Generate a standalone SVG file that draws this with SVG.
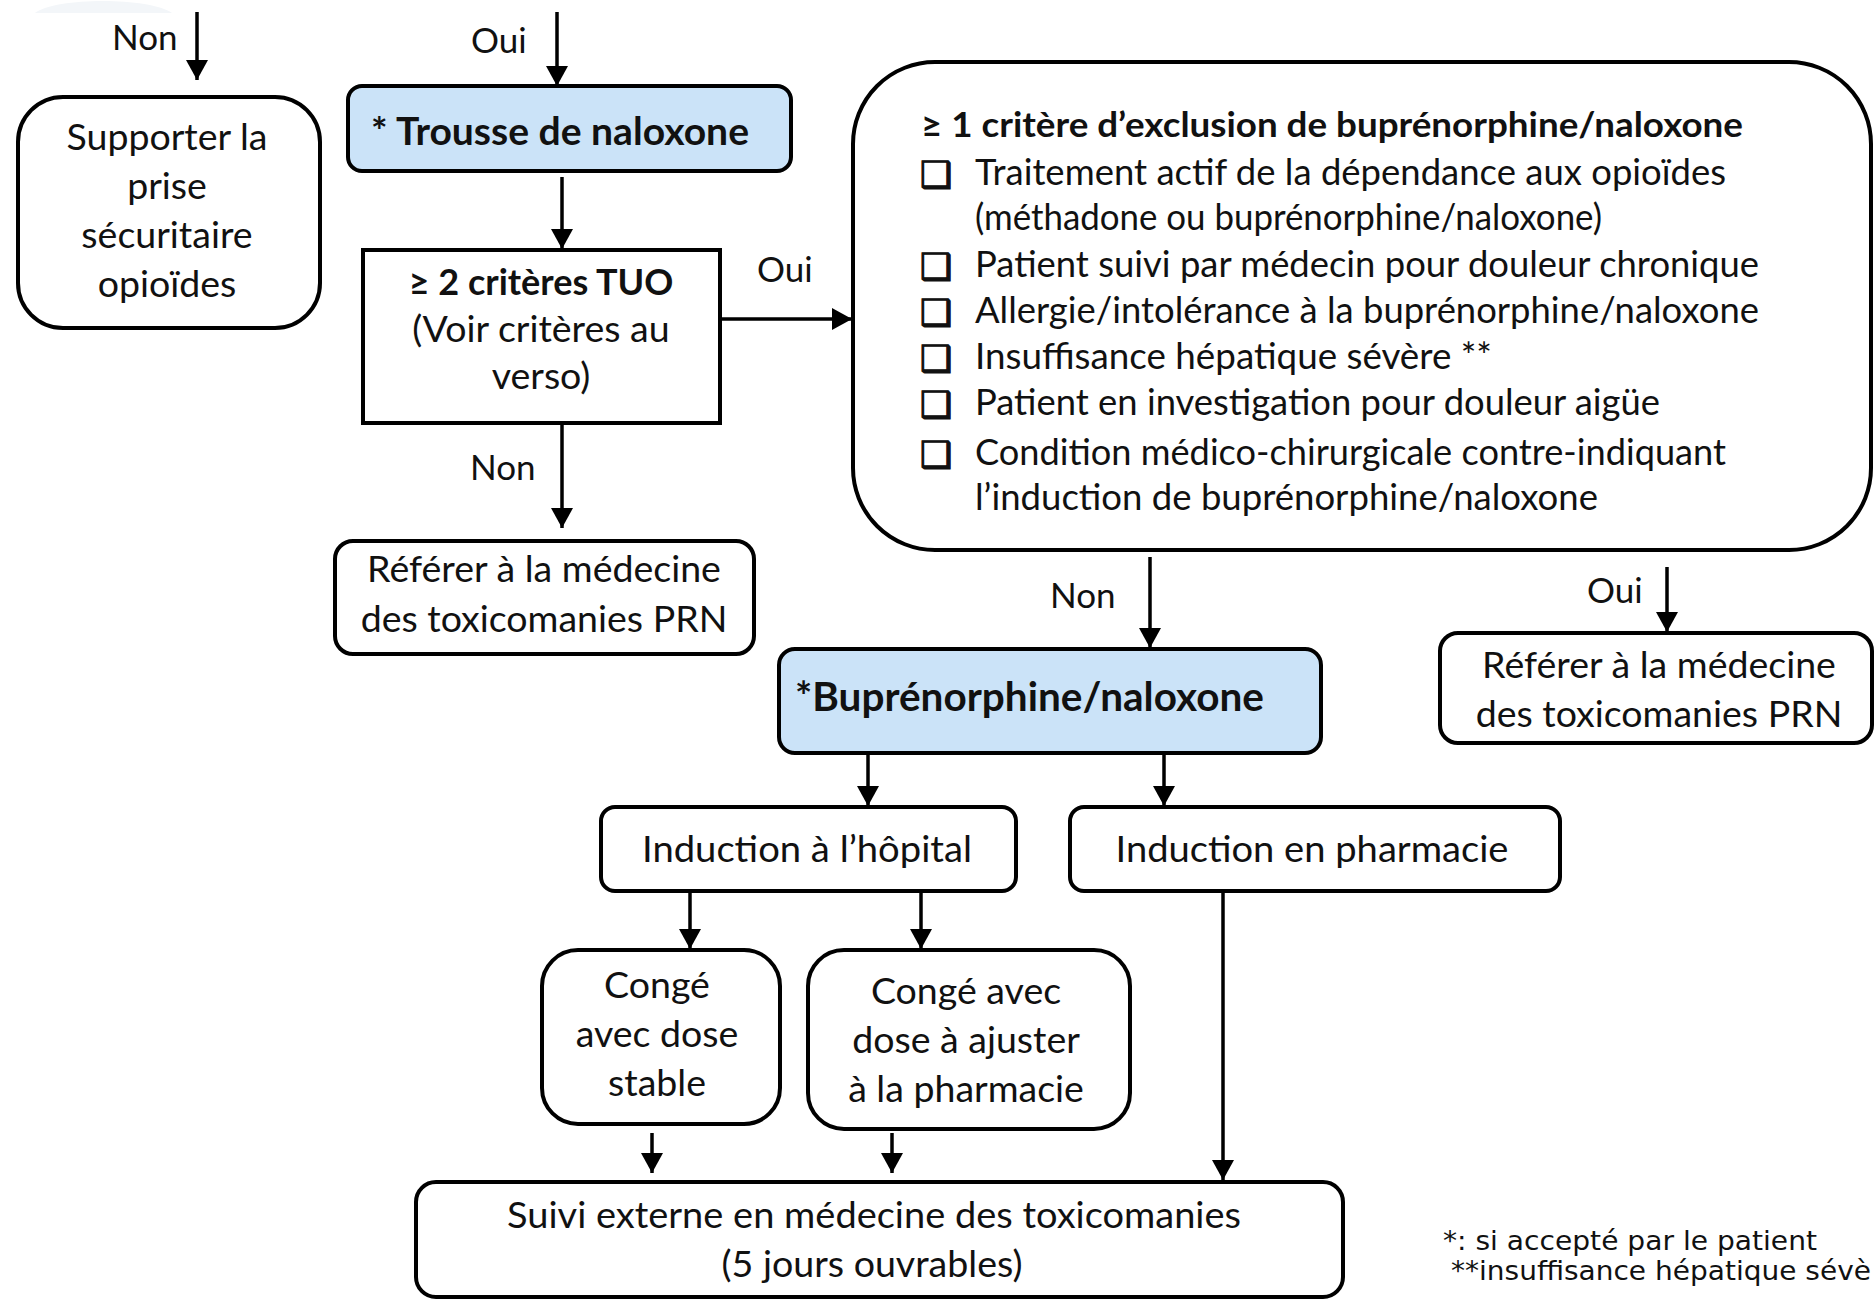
<svg xmlns="http://www.w3.org/2000/svg" width="1875" height="1300" viewBox="0 0 1875 1300">
<style>
.box{fill:#fff;stroke:#000;stroke-width:4}
.blue{fill:#cbe3f8;stroke:#000;stroke-width:4}
.t{font-family:Lato,"Open Sans",sans-serif;font-size:37.5px;fill:#111}
.c{text-anchor:middle}
.b{font-weight:bold}
.lbl{font-family:Lato,"Open Sans",sans-serif;font-size:35px;fill:#111}
.li{font-family:Lato,"Open Sans",sans-serif;font-size:36px;fill:#111}
.cb{font-family:"DejaVu Sans",sans-serif;font-size:36px;font-weight:bold;fill:#111;stroke:#111;stroke-width:1.2}
.fn{font-family:"DejaVu Sans",sans-serif;font-size:27px;fill:#111}
.ln{fill:none;stroke:#000;stroke-width:3.5}
.ar{fill:none;stroke:#000;stroke-width:3.5;marker-end:url(#ah)}
</style>
<defs>
<marker id="ah" viewBox="0 0 20 22" refX="20" refY="11" markerWidth="20" markerHeight="22" markerUnits="userSpaceOnUse" orient="auto">
<path d="M0,0 L20,11 L0,22 Z" fill="#000"/>
</marker>
</defs>
<rect width="1875" height="1300" fill="#fff"/>
<path d="M35,13 C55,-3 150,-3 172,13 Z" fill="#f3f6f9"/>

<g id="connectors">
<line class="ar" x1="197" y1="12" x2="197" y2="80"/>
<line class="ar" x1="557" y1="12" x2="557" y2="86"/>
<line class="ar" x1="562" y1="177" x2="562" y2="249"/>
<line class="ar" x1="720" y1="319" x2="852" y2="319"/>
<line class="ar" x1="562" y1="423" x2="562" y2="528"/>
<line class="ar" x1="1150" y1="557" x2="1150" y2="648"/>
<line class="ar" x1="1667" y1="567" x2="1667" y2="632"/>
<line class="ar" x1="868" y1="744" x2="868" y2="806"/>
<line class="ar" x1="1164" y1="749" x2="1164" y2="806"/>
<line class="ar" x1="690" y1="891" x2="690" y2="949"/>
<line class="ar" x1="921" y1="891" x2="921" y2="949"/>
<line class="ar" x1="1223" y1="891" x2="1223" y2="1180"/>
<line class="ar" x1="652" y1="1133" x2="652" y2="1173"/>
<line class="ar" x1="892" y1="1133" x2="892" y2="1173"/>
<text class="lbl" x="112" y="50">Non</text>
<text class="lbl" x="471" y="53">Oui</text>
<text class="lbl" x="757" y="282">Oui</text>
<text class="lbl" x="470" y="480">Non</text>
<text class="lbl" x="1050" y="608">Non</text>
<text class="lbl" x="1587" y="603">Oui</text>
</g>

<g id="supporter">
<rect class="box" x="18" y="97" width="302" height="231" rx="45"/>
<text class="t c" x="167" y="150">Supporter la</text>
<text class="t c" x="167" y="199">prise</text>
<text class="t c" x="167" y="248">sécuritaire</text>
<text class="t c" x="167" y="297">opioïdes</text>
</g>

<g id="trousse">
<rect class="blue" x="348" y="86" width="443" height="85" rx="14"/>
<text class="t b" x="371" y="145" style="font-size:39px" textLength="378" lengthAdjust="spacingAndGlyphs">* Trousse de naloxone</text>
</g>

<g id="tuo">
<rect class="box" x="363" y="250" width="357" height="173"/>
<text class="t c b" x="541" y="295" style="font-size:36px">≥ 2 critères TUO</text>
<text class="t c" x="541" y="342">(Voir critères au</text>
<text class="t c" x="541" y="389">verso)</text>
</g>

<g id="referer-gauche">
<rect class="box" x="335" y="541" width="419" height="113" rx="18"/>
<text class="t c" x="544" y="582">Référer à la médecine</text>
<text class="t c" x="544" y="632">des toxicomanies PRN</text>
</g>

<g id="exclusion">
<rect class="box" x="853" y="62" width="1018" height="488" rx="82"/>
<text class="t b" x="921" y="137" style="font-size:35px" textLength="822" lengthAdjust="spacingAndGlyphs">≥ 1 critère d’exclusion de buprénorphine/naloxone</text>
<text class="cb" x="920" y="187">❑</text>
<text class="li" x="975" y="185" textLength="751" lengthAdjust="spacingAndGlyphs">Traitement actif de la dépendance aux opioïdes</text>
<text class="li" x="975" y="230" textLength="627" lengthAdjust="spacingAndGlyphs">(méthadone ou buprénorphine/naloxone)</text>
<text class="cb" x="920" y="279">❑</text>
<text class="li" x="975" y="277" textLength="784" lengthAdjust="spacingAndGlyphs">Patient suivi par médecin pour douleur chronique</text>
<text class="cb" x="920" y="325">❑</text>
<text class="li" x="975" y="323" textLength="784" lengthAdjust="spacingAndGlyphs">Allergie/intolérance à la buprénorphine/naloxone</text>
<text class="cb" x="920" y="371">❑</text>
<text class="li" x="975" y="369" textLength="517" lengthAdjust="spacingAndGlyphs">Insuffisance hépatique sévère **</text>
<text class="cb" x="920" y="417">❑</text>
<text class="li" x="975" y="415" textLength="685" lengthAdjust="spacingAndGlyphs">Patient en investigation pour douleur aigüe</text>
<text class="cb" x="920" y="467">❑</text>
<text class="li" x="975" y="465" textLength="751" lengthAdjust="spacingAndGlyphs">Condition médico-chirurgicale contre-indiquant</text>
<text class="li" x="975" y="510" textLength="623" lengthAdjust="spacingAndGlyphs">l’induction de buprénorphine/naloxone</text>
</g>

<g id="referer-droite">
<rect class="box" x="1440" y="633" width="432" height="110" rx="18"/>
<text class="t c" x="1659" y="678">Référer à la médecine</text>
<text class="t c" x="1659" y="727">des toxicomanies PRN</text>
</g>

<g id="buprenorphine">
<rect class="blue" x="779" y="649" width="542" height="104" rx="16"/>
<text class="t b" x="795" y="711" style="font-size:40px" textLength="469" lengthAdjust="spacingAndGlyphs">*Buprénorphine/naloxone</text>
</g>

<g id="induction-hopital">
<rect class="box" x="601" y="807" width="415" height="84" rx="14"/>
<text class="t c" x="807" y="862" textLength="330" lengthAdjust="spacingAndGlyphs">Induction à l’hôpital</text>
</g>

<g id="induction-pharmacie">
<rect class="box" x="1070" y="807" width="490" height="84" rx="14"/>
<text class="t c" x="1312" y="862" textLength="393" lengthAdjust="spacingAndGlyphs">Induction en pharmacie</text>
</g>

<g id="conge-stable">
<rect class="box" x="542" y="950" width="238" height="174" rx="36"/>
<text class="t c" x="657" y="998">Congé</text>
<text class="t c" x="657" y="1047">avec dose</text>
<text class="t c" x="657" y="1096">stable</text>
</g>

<g id="conge-ajuster">
<rect class="box" x="808" y="950" width="322" height="179" rx="36"/>
<text class="t c" x="966" y="1004">Congé avec</text>
<text class="t c" x="966" y="1053">dose à ajuster</text>
<text class="t c" x="966" y="1102">à la pharmacie</text>
</g>

<g id="suivi">
<rect class="box" x="416" y="1182" width="927" height="115" rx="20"/>
<text class="t c" x="874" y="1228" textLength="734" lengthAdjust="spacingAndGlyphs">Suivi externe en médecine des toxicomanies</text>
<text class="t c" x="872" y="1277" textLength="301" lengthAdjust="spacingAndGlyphs">(5 jours ouvrables)</text>
</g>

<g id="notes">
<text class="fn" x="1443" y="1250" textLength="374" lengthAdjust="spacingAndGlyphs">*: si accepté par le patient</text>
<text class="fn" x="1451" y="1280" textLength="420" lengthAdjust="spacingAndGlyphs">**insuffisance hépatique sévè</text>
</g>
</svg>
